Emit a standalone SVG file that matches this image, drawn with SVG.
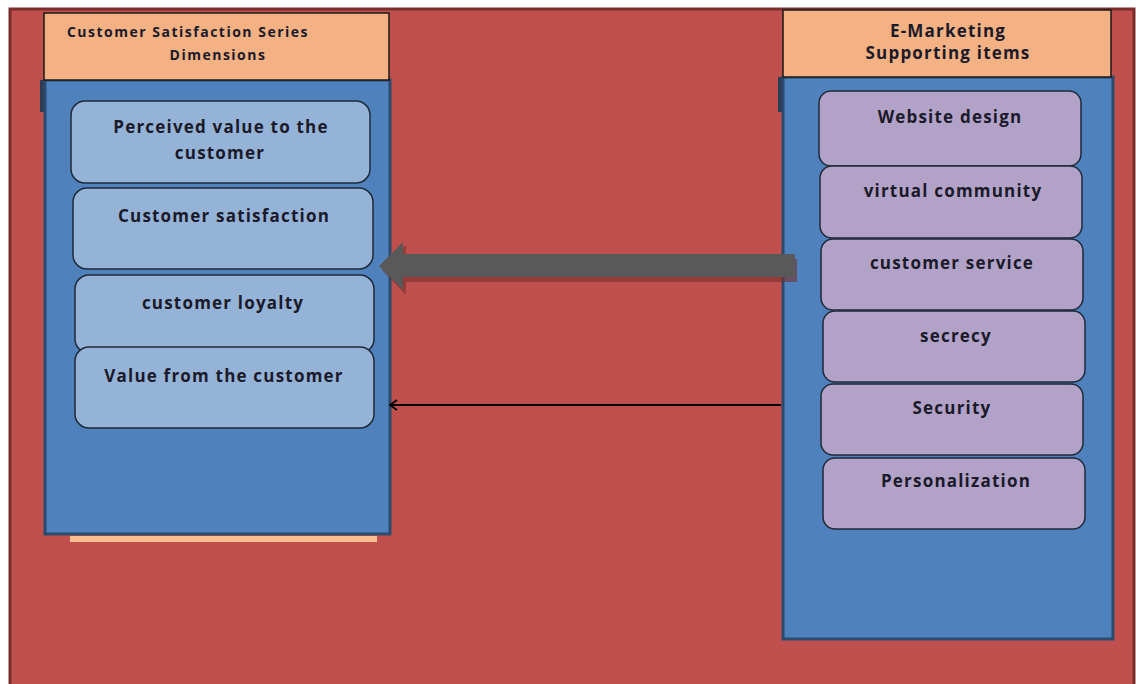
<svg xmlns="http://www.w3.org/2000/svg" width="1136" height="684" viewBox="0 0 1136 684">
<style>
.hdr{fill:#F4B183;stroke:#1a1a1a;stroke-width:1.5}
.panel{fill:#4F81BD;stroke:#2C4A6E;stroke-width:3}
.lb{fill:#95B3D7;stroke:#1f2a38;stroke-width:1.5}
.pb{fill:#B2A2C7;stroke:#1f2a38;stroke-width:1.5}
.t{font-family:"Open Sans","DejaVu Sans",sans-serif;font-weight:bold;fill:#1a1a2a;text-anchor:middle}
.t16{font-size:17px;letter-spacing:1.2px}
.t14{font-size:14px;letter-spacing:1.5px}
</style>
<defs>
<marker id="open" markerWidth="12" markerHeight="12" refX="8" refY="6" orient="auto" markerUnits="userSpaceOnUse">
<path d="M1,1 L8,6 L1,11" fill="none" stroke="#000" stroke-width="1.8"/>
</marker>
</defs>
<rect x="0" y="0" width="1136" height="684" fill="#ffffff"/>
<rect id="background" x="10" y="9" width="1124" height="680" fill="#C0504D" stroke="#7A2E2C" stroke-width="3"/>

<g id="left-column">
<rect x="40" y="80" width="6" height="32" fill="#2C3E55"/>
<rect x="70" y="536" width="307" height="6" fill="#FAC090"/>
<rect class="panel" x="45" y="80" width="345" height="454"/>
<rect class="hdr" x="44" y="13" width="345" height="67"/>
<text class="t t14" x="188" y="37">Customer Satisfaction Series</text>
<text class="t t14" x="218" y="60">Dimensions</text>
</g>
<g id="perceived-value">
<rect class="lb" x="71" y="101" width="299" height="82" rx="14"/>
<text class="t t16" x="221" y="133">Perceived value to the</text>
<text class="t t16" x="220" y="159">customer</text>
</g>
<g id="customer-satisfaction">
<rect class="lb" x="73" y="188" width="300" height="81" rx="14"/>
<text class="t t16" x="224" y="222">Customer satisfaction</text>
</g>
<g id="customer-loyalty">
<rect class="lb" x="75" y="275" width="299" height="78" rx="14"/>
<text class="t t16" x="223" y="309">customer loyalty</text>
</g>
<g id="value-from-customer">
<rect class="lb" x="75" y="347" width="299" height="81" rx="14"/>
<text class="t t16" x="224" y="382">Value from the customer</text>
</g>

<g id="right-column">
<rect x="778" y="77" width="6" height="35" fill="#2C3E55"/>
<rect class="panel" x="783" y="77" width="330" height="562"/>
<rect class="hdr" x="783" y="10" width="328" height="67"/>
<text class="t t16" x="948" y="37">E-Marketing</text>
<text class="t t16" x="948" y="59">Supporting items</text>
</g>
<g id="website-design">
<rect class="pb" x="819" y="91" width="262" height="75" rx="12"/>
<text class="t t16" x="950" y="123">Website design</text>
</g>
<g id="virtual-community">
<rect class="pb" x="820" y="166" width="262" height="72" rx="12"/>
<text class="t t16" x="953" y="197">virtual community</text>
</g>
<g id="customer-service">
<rect class="pb" x="821" y="239" width="262" height="71" rx="12"/>
<text class="t t16" x="952" y="269">customer service</text>
</g>
<g id="secrecy">
<rect class="pb" x="823" y="311" width="262" height="71" rx="12"/>
<text class="t t16" x="956" y="342">secrecy</text>
</g>
<g id="security">
<rect class="pb" x="821" y="384" width="262" height="71" rx="12"/>
<text class="t t16" x="952" y="414">Security</text>
</g>
<g id="personalization">
<rect class="pb" x="823" y="458" width="262" height="71" rx="12"/>
<text class="t t16" x="956" y="487">Personalization</text>
</g>

<g id="connectors">
<polygon points="795,279 404,279 404,292 380,267 404,242 404,256 795,256" fill="#7A2E2C" opacity="0.6" transform="translate(2,3)"/>
<polygon points="795,277 403,277 403,290 379,266 403,242 403,254 795,254" fill="#595959"/>
<line x1="781" y1="405" x2="390" y2="405" stroke="#000" stroke-width="2" marker-end="url(#open)"/>
</g>
</svg>
